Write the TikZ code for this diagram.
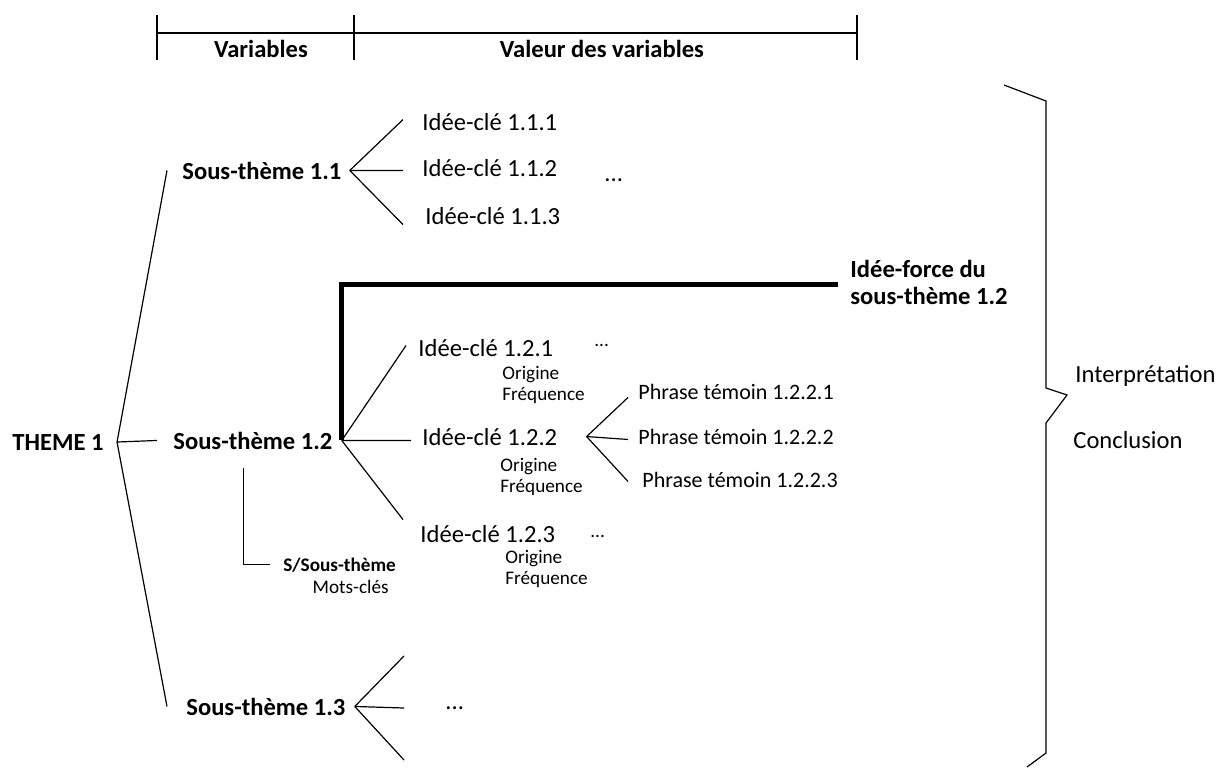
\documentclass[tikz,border=0pt]{standalone}
\usepackage{fontspec}
\setmainfont{Carlito}

\begin{document}
\begin{tikzpicture}[
    x=0.5pt, y=-0.5pt,
    txt/.style={inner sep=0pt, anchor=base west, font=\fontsize{12.3}{13.5}\selectfont},
    bold/.style={txt, font=\fontsize{12.3}{13.5}\selectfont\bfseries},
    note/.style={inner sep=0pt, anchor=base west, align=left, font=\fontsize{9.6}{10.5}\selectfont},
    phrase/.style={txt, font=\fontsize{11}{13}\selectfont},
    branch/.style={line width=0.6pt},
    strong/.style={line width=2.5pt},
    rule/.style={line width=1pt}
]
\useasboundingbox (0,0) rectangle (1222,767);

% Header
\draw[rule] (157,33) -- (857,33);
\foreach \x in {157,354,857}
    \draw[rule] (\x,15) -- (\x,60);
\node[bold, anchor=base] (var) at (261,57) {Variables};
\node[bold, anchor=base] (val) at (602,57) {Valeur des variables};

% Nodes (two-line nodes sit on their last baseline)
\node[bold] (theme) at (12,450) {THEME 1};
\node[bold] (s11) at (182,179) {Sous-thème 1.1};
\node[bold] (s12) at (173,449) {Sous-thème 1.2};
\node[bold] (s13) at (186,715) {Sous-thème 1.3};

\node[txt] (i111) at (422,130) {Idée-clé 1.1.1};
\node[txt] (i112) at (422,176) {Idée-clé 1.1.2};
\node[txt] (i113) at (425,224) {Idée-clé 1.1.3};
\node[txt] (d11) at (604,181) {...};

\node[bold, align=left] (force) at (850,304) {Idée-force du\\sous-thème 1.2};

\node[txt] (i121) at (418,356) {Idée-clé 1.2.1};
\node[note] (d121) at (594,346) {...};
\node[note] (o121) at (502,400) {Origine\\Fréquence};

\node[txt] (i122) at (422,445) {Idée-clé 1.2.2};
\node[note] (o122) at (500,492) {Origine\\Fréquence};

\node[txt] (i123) at (420,542) {Idée-clé 1.2.3};
\node[note] (d123) at (590,537) {...};
\node[note] (o123) at (505,584) {Origine\\Fréquence};

\node[phrase] (p1) at (638,399) {Phrase témoin 1.2.2.1};
\node[phrase] (p2) at (638,444) {Phrase témoin 1.2.2.2};
\node[phrase] (p3) at (642,487) {Phrase témoin 1.2.2.3};

\node[note, font=\fontsize{9.6}{10.5}\selectfont\bfseries] (sst) at (283,571) {S/Sous-thème};
\node[note, anchor=base east] (mc) at (389,593) {Mots-clés};

\node[txt] (d13) at (445,709) {...};

\node[txt] (interp) at (1075,382) {Interprétation};
\node[txt] (concl) at (1073,448) {Conclusion};

% Free ends of the last fan
\coordinate (e131) at (404,656);
\coordinate (e132) at (404,708);
\coordinate (e133) at (404,760);

% Lines
\draw[branch] ([xshift=6.5pt]theme.east) -- ([xshift=-7.5pt]s11.west);
\draw[branch] ([xshift=6.5pt]theme.east) -- ([xshift=-8pt]s12.west);
\draw[branch] ([xshift=6.5pt]theme.east) -- ([xshift=-9.5pt]s13.west);

\draw[branch] ([xshift=4pt]s11.east) -- ([xshift=-9.5pt,yshift=1pt]i111.west);
\draw[branch] ([xshift=4pt]s11.east) -- ([xshift=-9.5pt,yshift=-1.5pt]i112.west);
\draw[branch] ([xshift=4pt]s11.east) -- ([xshift=-11pt,yshift=-4.5pt]i113.west);

\draw[strong] ([xshift=4.5pt]s12.east) |- ([xshift=-6pt,yshift=-1.5pt]force.west);
\draw[branch] ([xshift=4.5pt]s12.east) -- ([xshift=-6pt,yshift=1pt]i121.west);
\draw[branch] ([xshift=4.5pt]s12.east) -- ([xshift=-5.5pt,yshift=-2pt]i122.west);
\draw[branch] ([xshift=4.5pt]s12.east) -- ([xshift=-8.5pt,yshift=7pt]i123.west);
\draw[branch] ([xshift=-4.5pt,yshift=-9pt]s12.south) |- ([xshift=-6.5pt]sst.west);

\draw[branch] ([xshift=14.5pt]i122.east) -- ([xshift=-5pt,yshift=-3pt]p1.west);
\draw[branch] ([xshift=14.5pt]i122.east) -- ([xshift=-5pt,yshift=-1.5pt]p2.west);
\draw[branch] ([xshift=14.5pt]i122.east) -- ([xshift=-7pt,yshift=-1pt]p3.west);

\foreach \e in {e131,e132,e133}
    \draw[branch] ([xshift=4.5pt]s13.east) -- (\e);

% Brace
\draw[branch] (1004,85) -- (1046,101) -- (1046,388) -- (1067,395)
    -- (1046,423) -- (1046,753) -- (1027,767);

\end{tikzpicture}
\end{document}
